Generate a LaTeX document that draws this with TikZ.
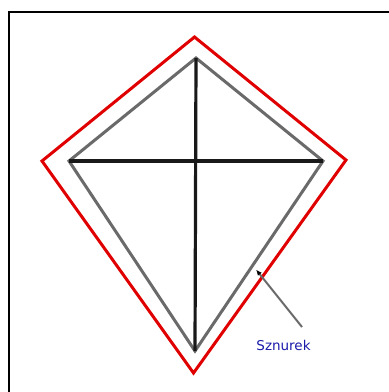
\documentclass[tikz,border=0pt]{standalone}
\usepackage{fontspec}
\setmainfont{DejaVu Sans}
\usetikzlibrary{arrows.meta}
\definecolor{kred}{HTML}{E00000}
\definecolor{kgrey}{HTML}{6A6A6A}
\definecolor{kblue}{HTML}{1A1AAA}
\begin{document}
\begin{tikzpicture}[x=1pt,y=-1pt,
  frame/.style={line width=2.2pt,black},
  outer/.style={line width=3pt,kred,line join=miter},
  side/.style={line width=3pt,kgrey,line join=miter},
  cross/.style={line width=3.2pt,black!90},
  pointer/.style={line width=2pt,kgrey,-{Latex[length=6pt,width=5pt,black]}},
  lbl/.style={text=kblue,font=\fontsize{13.5}{16}\selectfont,inner sep=0pt}]
\useasboundingbox (0,0) rectangle (389,392);
\fill[white] (0,0) rectangle (389,392);
% frame (only left and top edges visible)
\coordinate (fbl) at (9,393);
\coordinate (ftl) at (9,12);
\coordinate (ftr) at (390,12);
\draw[frame] (fbl) -- (ftl) -- (ftr);
% outer red kite
\coordinate (rt) at (194.5,37);
\coordinate (rl) at (42,161);
\coordinate (rr) at (346,160);
\coordinate (rb) at (193.5,373);
\draw[outer] (rt) -- (rr) -- (rb) -- (rl) -- cycle;
% inner kite
\coordinate (kt) at (196,58);
\coordinate (kl) at (69,161);
\coordinate (kr) at (323,161);
\coordinate (kb) at (195,351);
\draw[side] (kt) -- (kr) -- (kb) -- (kl) -- cycle;
\draw[cross] (kt) -- (kb);
\draw[cross] (kl) -- (kr);
% label and pointer
\node[lbl] (sz) at (283.5,345) {Sznurek};
\coordinate (ps) at (302,327);
\coordinate (pe) at (256,269.5);
\draw[pointer] (ps) -- (pe);
\end{tikzpicture}
\end{document}
